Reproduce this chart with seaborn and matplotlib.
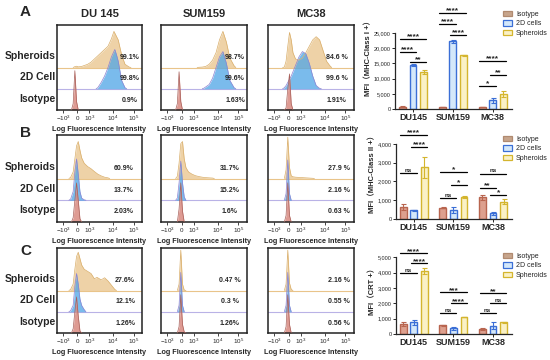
import matplotlib.pyplot as plt
import numpy as np
import pandas as pd
import seaborn as sns
from matplotlib.patches import Patch
from matplotlib.transforms import blended_transform_factory

# ---- flow histograms ----
cell_lines = ["DU 145", "SUM159", "MC38"]
pop_labels = ["Spheroids", "2D Cell", "Isotype"]
log_ticks = [7, 24, 38, 66, 90]
log_labels = [r"$-10^3$", r"$0$", r"$10^3$", r"$10^4$", r"$10^5$"]

# curve heights as (x, height) pairs
sph_A = {
    "DU 145": [(21, 0.04), (23, 0.06), (25, 0.03), (29, 0.05), (36, 0.15), (40, 0.25), (44, 0.4), (48, 0.55),
               (52, 0.7), (56, 0.85), (60, 1.0), (64, 1.35), (67, 1.7), (72, 1.3), (76, 0.6), (80, 0.15), (85, 0.02)],
    "SUM159": [(44, 0.01), (48, 0.02), (52, 0.05), (56, 0.15), (60, 0.35), (64, 0.7), (68, 1.3), (72, 1.7),
               (76, 1.2), (80, 0.45), (85, 0.08)],
    "MC38": [(19, 0.02), (21, 0.3), (23, 1.0), (25, 1.65), (27, 1.3), (29, 0.7), (32, 0.4), (36, 0.35),
             (40, 0.45), (44, 0.7), (48, 1.0), (52, 1.3), (56, 1.45), (60, 1.3), (64, 0.8), (68, 0.3), (72, 0.08)],
}
two_d_A = {
    "DU 145": [(48, 0.05), (52, 0.3), (56, 0.6), (60, 1.0), (64, 1.5), (68, 1.85), (70, 1.6), (72, 1.3),
               (76, 0.4), (80, 0.05)],
    "SUM159": [(50, 0.03), (56, 0.2), (60, 0.5), (64, 1.0), (68, 1.5), (72, 1.75), (76, 1.2), (80, 0.4), (85, 0.05)],
    "MC38": [(19, 0.05), (21, 0.15), (23, 0.3), (25, 0.45), (27, 0.6), (29, 0.8), (32, 1.1), (36, 1.5),
             (40, 1.75), (44, 1.65), (48, 1.2), (52, 0.6), (56, 0.15), (60, 0.02)],
}
iso_A = {
    "DU 145": [(19, 0.3), (21, 1.85), (23, 0.4)],
    "SUM159": [(19, 0.3), (21, 1.8), (23, 0.4)],
    "MC38": [(21, 0.1), (23, 1.0), (25, 1.7), (27, 0.3)],
}
sph_B = {
    "DU 145": [(16, 0.05), (19, 0.3), (21, 0.9), (23, 1.5), (25, 1.7), (27, 1.3), (29, 0.95), (32, 0.7),
               (36, 0.55), (40, 0.45), (44, 0.32), (48, 0.2), (52, 0.12), (56, 0.06), (60, 0.03)],
    "SUM159": [(19, 0.1), (21, 0.7), (23, 1.6), (25, 1.7), (27, 0.9), (29, 0.5), (32, 0.3), (36, 0.2),
               (40, 0.13), (44, 0.09), (48, 0.06), (52, 0.04), (56, 0.03), (60, 0.02)],
    "MC38": [(21, 0.4), (23, 1.9), (25, 0.5), (27, 0.12), (29, 0.08), (32, 0.06), (36, 0.05), (40, 0.04),
             (44, 0.03), (48, 0.02), (52, 0.01)],
}
two_d_B = {
    "DU 145": [(16, 0.05), (19, 0.4), (21, 1.3), (23, 1.9), (25, 1.2), (27, 0.4), (29, 0.1), (32, 0.02)],
    "SUM159": [(19, 0.1), (21, 0.8), (23, 1.8), (25, 0.8), (27, 0.15)],
    "MC38": [(21, 0.3), (23, 1.85), (25, 0.3)],
}
iso_B = {
    "DU 145": [(19, 0.2), (21, 1.0), (23, 1.8), (25, 1.0), (27, 0.15)],
    "SUM159": [(21, 0.6), (23, 1.8), (25, 0.5)],
    "MC38": [(21, 0.3), (23, 1.8), (25, 0.3)],
}
sph_C = {
    "DU 145": [(16, 0.05), (19, 0.3), (21, 1.0), (23, 1.6), (25, 1.8), (27, 1.5), (29, 1.2), (32, 1.0),
               (36, 0.9), (40, 0.8), (44, 0.55), (47, 0.62), (52, 0.5), (56, 0.6), (60, 0.45), (64, 0.25),
               (68, 0.05)],
    "SUM159": [(21, 0.3), (23, 1.9), (25, 0.3), (27, 0.02)],
    "MC38": [(21, 0.3), (23, 1.9), (25, 0.35), (27, 0.05)],
}
two_d_C = {
    "DU 145": [(16, 0.05), (19, 0.3), (21, 1.2), (23, 1.8), (25, 1.3), (27, 0.6), (29, 0.3), (32, 0.1)],
    "SUM159": [(21, 0.3), (23, 1.85), (25, 0.3)],
    "MC38": [(21, 0.3), (23, 1.85), (25, 0.3)],
}
iso_C = {
    "DU 145": [(19, 0.2), (21, 1.0), (23, 1.7), (25, 0.8), (27, 0.1)],
    "SUM159": [(21, 0.3), (23, 1.8), (25, 0.4), (27, 0.05)],
    "MC38": [(21, 0.3), (23, 1.8), (25, 0.4)],
}
# percentages (Spheroids, 2D Cell, Isotype)
pct_A = [["99.1%", "99.8%", "0.9%"], ["98.7%", "99.6%", "1.63%"], ["84.6 %", "99.6 %", "1.91%"]]
pct_B = [["60.9%", "13.7%", "2.03%"], ["31.7%", "15.2%", "1.6%"], ["27.9 %", "2.16 %", "0.63 %"]]
pct_C = [["27.6%", "12.1%", "1.26%"], ["0.47 %", "0.3 %", "1.26%"], ["2.16 %", "0.55 %", "0.56 %"]]

# ---- MFI bar charts ----
bar_lines = ["DU145", "SUM159", "MC38"]
groups = ["Isotype", "2D cells", "Spheroids"]
mfi_A = {"Isotype": [800, 600, 600], "2D cells": [14400, 22200, 2800], "Spheroids": [12100, 17600, 4900]}
sd_A = {"Isotype": [150, 80, 100], "2D cells": [300, 400, 900], "Spheroids": [700, 300, 1000]}
mfi_B = {"Isotype": [650, 600, 1150], "2D cells": [470, 480, 300], "Spheroids": [2750, 1180, 920]}
sd_B = {"Isotype": [150, 20, 120], "2D cells": [20, 150, 80], "Spheroids": [550, 50, 120]}
mfi_C = {"Isotype": [650, 580, 330], "2D cells": [750, 380, 550], "Spheroids": [4100, 1100, 750]}
sd_C = {"Isotype": [150, 30, 50], "2D cells": [150, 100, 200], "Spheroids": [200, 20, 60]}
# significance: (cell line, group a, group b, label)
sig_A = [(0, 0, 1, "****"), (0, 0, 2, "****"), (0, 1, 2, "**"), (1, 0, 1, "****"), (1, 0, 2, "****"),
         (1, 1, 2, "****"), (2, 0, 1, "*"), (2, 0, 2, "****"), (2, 1, 2, "**")]
sig_B = [(0, 0, 1, "ns"), (0, 0, 2, "****"), (0, 1, 2, "****"), (1, 0, 1, "ns"), (1, 0, 2, "*"),
         (1, 1, 2, "*"), (2, 0, 1, "**"), (2, 0, 2, "ns"), (2, 1, 2, "*")]
sig_C = [(0, 0, 1, "ns"), (0, 0, 2, "****"), (0, 1, 2, "****"), (1, 0, 1, "ns"), (1, 0, 2, "***"),
         (1, 1, 2, "****"), (2, 0, 1, "ns"), (2, 0, 2, "**"), (2, 1, 2, "ns")]
lev_A = [18750, 23000, 15500, 28000, 31600, 24300, 7600, 15800, 11200]
lev_B = [2450, 4480, 3840, 1120, 2500, 1810, 1650, 2400, 1280]
lev_C = [3960, 5260, 4610, 1360, 2730, 2010, 1360, 2660, 2010]

sns.set_style("ticks")
plt.rcParams['font.family'] = ['Liberation Sans', 'Noto Sans CJK SC', 'DejaVu Sans']
plt.rcParams['mathtext.fontset'] = 'custom'
plt.rcParams['mathtext.rm'] = 'Liberation Sans'
plt.rcParams['mathtext.it'] = 'Liberation Sans'

W, H = 550, 360
fig = plt.figure(figsize=(W / 100, H / 100), dpi=100)


def px_axes(l, t, r, b):
    return fig.add_axes([l / W, 1 - b / H, (r - l) / W, (b - t) / H])


hist_cols = [(57, 142), (161, 247), (268, 354)]
hist_rows = [(25, 110), (135, 222), (248, 333)]
letter_y = [12, 133, 251]
curve_sets = [(sph_A, two_d_A, iso_A, pct_A), (sph_B, two_d_B, iso_B, pct_B), (sph_C, two_d_C, iso_C, pct_C)]
pct_x = [[0.86, 0.86, 0.8], [0.78, 0.8, 0.82], [0.8, 0.8, 0.82]]

sph_fill, sph_line = "#E9C48A", "#D9AE6A"
two_fill, two_line = "#4EA5E6", "#8C82D2"
iso_fill, iso_line = "#D98A80", "#A8605A"

for r, (t, b) in enumerate(hist_rows):
    sph, twod, iso, pct = curve_sets[r]
    for c, (l, rr) in enumerate(hist_cols):
        ax = px_axes(l, t, rr, b)
        name = cell_lines[c]
        ax.axhline(2, color=sph_fill, lw=0.8, zorder=1)
        ax.axhline(1, color="#B9B2E6", lw=0.8, zorder=1)
        for pts, base, fc, ec, al in [(sph[name], 2, sph_fill, sph_line, 0.75),
                                      (twod[name], 1, two_fill, two_line, 0.75),
                                      (iso[name], 0, iso_fill, iso_line, 0.85)]:
            xs = [pts[0][0] - 2] + [p[0] for p in pts] + [pts[-1][0] + 2]
            ys = [0] + [p[1] for p in pts] + [0]
            ys = np.array(ys) + base
            ax.fill_between(xs, base, ys, color=fc, alpha=al, lw=0, zorder=2)
            ax.plot(xs, ys, color=ec, lw=0.5, zorder=3)
        trans = blended_transform_factory(ax.transAxes, ax.transData)
        for k, base in enumerate([2, 1, 0]):
            ax.text(pct_x[r][c], base + 0.3, pct[c][k], transform=trans,
                    ha="center", va="bottom", fontsize=5, fontweight="bold")
            if c == 0:
                ax.text(-0.02, base + 0.3, pop_labels[k], transform=trans,
                        ha="right", va="bottom", fontsize=7.5, fontweight="bold")
        ax.set_xlim(0, 100)
        ax.set_ylim(0, 4)
        ax.set_yticks([])
        ax.set_xticks(log_ticks, log_labels)
        ax.tick_params(axis="x", labelsize=4.5, length=2, width=0.6, pad=1)
        ax.set_xlabel("Log Fluorescence Intensity", fontsize=5.2, fontweight="bold", labelpad=1.5)
        for s in ax.spines.values():
            s.set_linewidth(1.1)
            s.set_color("#222222")
        if r == 0:
            ax.set_title(name, fontsize=8, fontweight="bold", pad=6)
    fig.text(20 / W, 1 - letter_y[r] / H, "ABC"[r], fontsize=11, fontweight="bold",
             va="center", ha="left")

# bar charts
bar_face = {"Isotype": "#DDA08E", "2D cells": "#D4E8FA", "Spheroids": "#FAF1C6"}
bar_edge = {"Isotype": "#B8654F", "2D cells": "#3B6FD6", "Spheroids": "#D4B52E"}
bar_boxes = [(395, 4, 512, 109), (396, 125, 512, 219), (396, 245, 512, 334)]
bar_sets = [(mfi_A, sd_A, sig_A, lev_A, 34500, 25000, 5000, "MFI（MHC-Class I +）"),
            (mfi_B, sd_B, sig_B, lev_B, 5000, 4000, 1000, "MFI（MHC-Class II +）"),
            (mfi_C, sd_C, sig_C, lev_C, 5800, 5000, 1000, "MFI（CRT +）")]
legend_tops = [8, 133, 250]

for k, (l, t, rr, b) in enumerate(bar_boxes):
    mfi, sd, sig, lev, ytop, ymax, ystep, ylab = bar_sets[k]
    df = pd.DataFrame([(bar_lines[i], g, mfi[g][i]) for g in groups for i in range(3)],
                      columns=["line", "group", "mfi"])
    ax = px_axes(l, t, rr, b)
    sns.barplot(data=df, x="line", y="mfi", hue="group", hue_order=groups, order=bar_lines,
                width=0.8, gap=0.35, errorbar=None, legend=False, ax=ax)
    centers = {}
    for g, cont in zip(groups, ax.containers):
        for i, bar in enumerate(cont):
            bar.set_facecolor(bar_face[g])
            bar.set_edgecolor(bar_edge[g])
            bar.set_linewidth(1.0)
            cx = bar.get_x() + bar.get_width() / 2
            centers[(i, groups.index(g))] = cx
            ax.errorbar(cx, mfi[g][i], yerr=sd[g][i], color=bar_edge[g], lw=0.8, capsize=1.8, capthick=0.8)
    for (i, a, bb, lab), y in zip(sig, lev):
        x0 = centers[(i, a)] - 0.07
        x1 = centers[(i, bb)] + 0.07
        ax.plot([x0, x1], [y, y], color="black", lw=0.9)
        ax.annotate(lab, ((x0 + x1) / 2, y), xytext=(0, -1.2 if "*" in lab else 0.3),
                    textcoords="offset points", ha="center", va="bottom",
                    fontsize=6 if "*" in lab else 4.5, fontweight="bold")
    ax.set_xlim(-0.45, 2.48)
    ax.set_ylim(0, ytop)
    yt = list(range(0, ymax + 1, ystep))
    ax.set_yticks(yt, [f"{v:,}" for v in yt])
    ax.spines["left"].set_bounds(0, ymax)
    sns.despine(ax=ax)
    ax.spines["left"].set_linewidth(0.9)
    ax.spines["bottom"].set_linewidth(0.9)
    ax.tick_params(axis="y", labelsize=4, length=2, width=0.7, pad=1)
    ax.tick_params(axis="x", labelsize=6.5, length=2, width=0.7, pad=1)
    for tl in ax.get_xticklabels():
        tl.set_fontweight("bold")
    ax.set_xlabel("")
    ax.set_ylabel(ylab, fontsize=5.5, fontweight="bold", labelpad=1)
    handles = [Patch(facecolor=bar_face[g], edgecolor=bar_edge[g], lw=0.9) for g in groups]
    handles[0] = Patch(facecolor="#C7A58C", edgecolor="#B08A70", lw=0.9)
    fig.legend(handles, groups, loc="upper left", bbox_to_anchor=(500 / W, 1 - legend_tops[k] / H),
               frameon=False, fontsize=5, handlelength=1.3, handleheight=0.8, labelspacing=0.35,
               handletextpad=0.6, borderaxespad=0)

fig.savefig("out.png", dpi=100)
